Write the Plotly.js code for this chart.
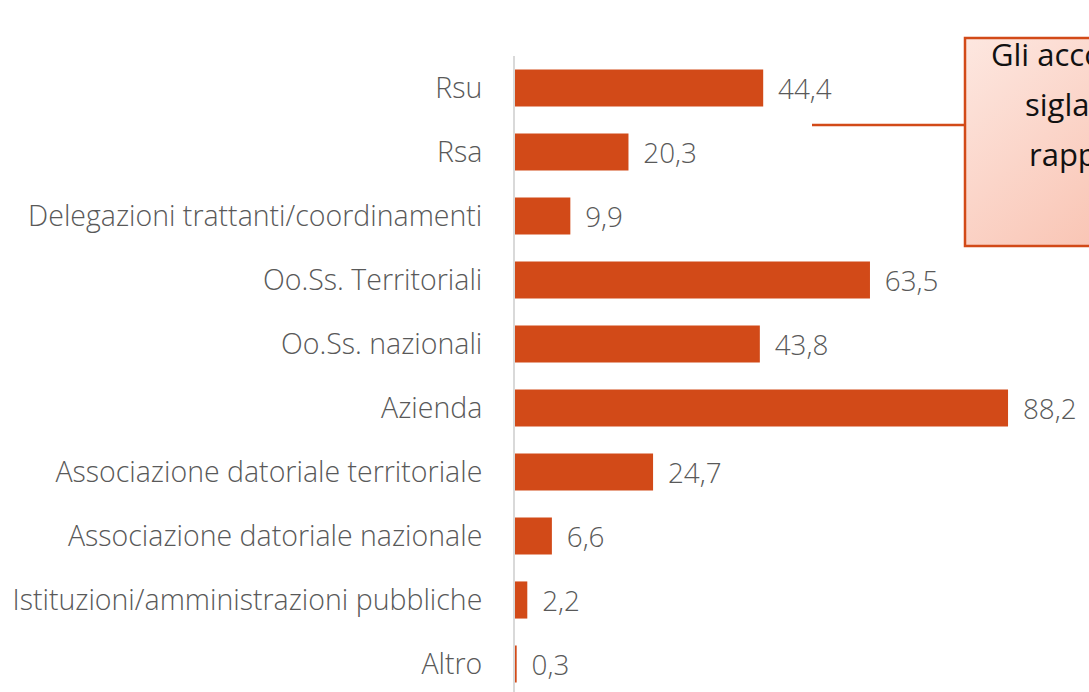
<!DOCTYPE html>
<html>
<head>
<meta charset="utf-8">
<script src="https://cdn.plot.ly/plotly-3.0.1.min.js"></script>
<style>html,body{margin:0;padding:0;background:#fff;overflow:hidden}#chart{width:1089px;height:692px}</style>
</head>
<body>
<div id="chart"></div>
<script>
const categories = [
  "Rsu",
  "Rsa",
  "Delegazioni trattanti/coordinamenti",
  "Oo.Ss. Territoriali",
  "Oo.Ss. nazionali",
  "Azienda",
  "Associazione datoriale territoriale",
  "Associazione datoriale nazionale",
  "Istituzioni/amministrazioni pubbliche",
  "Altro"
];
const values = [44.4, 20.3, 9.9, 63.5, 43.8, 88.2, 24.7, 6.6, 2.2, 0.3];
const calloutLines = ["Gli accordi sono stati", "siglati da più", "rappresentanze"];

const W = 1089, H = 692;
const L = 515, T = 56, B = 0, R = 0;
const pw = W - L - R, ph = H - T - B;
const px = x => (x - L) / pw;
const py = y => (H - B - y) / ph;

const FONT = '"Open Sans", sans-serif';

const trace = {
  type: 'bar',
  orientation: 'h',
  y: categories,
  x: values,
  marker: {color: '#d24a18'},
  width: 0.58,
  texttemplate: '\u00a0\u2009%{x:.1f}',
  textposition: 'outside',
  cliponaxis: false,
  textfont: {family: FONT, size: 28.5, color: '#595959', weight: 300},
  hoverinfo: 'skip'
};

const annotations = [
  {text: calloutLines[0], xpos: 989, ypos: 54},
  {text: calloutLines[1], xpos: 1023, ypos: 104},
  {text: calloutLines[2], xpos: 1027, ypos: 154}
].map(a => ({
  xref: 'paper', yref: 'paper', x: px(a.xpos), y: py(a.ypos),
  xanchor: 'left', yanchor: 'middle', showarrow: false, text: a.text,
  font: {family: FONT, size: 31, color: '#111111', weight: 400}
}));

const gradSvg = "<svg xmlns='http://www.w3.org/2000/svg' width='100' height='100' preserveAspectRatio='none'>" +
  "<defs><linearGradient id='g' x1='0' y1='0' x2='1' y2='1'>" +
  "<stop offset='0' stop-color='#fde7e0'/><stop offset='1' stop-color='#f8bba8'/></linearGradient></defs>" +
  "<rect width='100' height='100' fill='url(#g)'/></svg>";
const gradUri = 'data:image/svg+xml;charset=utf-8,' + encodeURIComponent(gradSvg);

const layout = {
  width: W, height: H,
  margin: {l: L, r: R, t: T, b: B, pad: 0},
  paper_bgcolor: '#ffffff', plot_bgcolor: 'rgba(0,0,0,0)',
  separators: ',.',
  showlegend: false,
  xaxis: {range: [0, pw / 5.59], visible: false, fixedrange: true},
  yaxis: {
    type: 'category',
    range: [categories.length - 1 + (ph / 64 - categories.length + 0.5), -0.5],
    showline: true, linecolor: '#d9d9d9', linewidth: 2,
    showgrid: false, zeroline: false, ticks: '',
    ticklabelstandoff: 25,
    tickfont: {family: FONT, size: 28.5, color: '#595959', weight: 300},
    fixedrange: true
  },
  images: [
    {source: gradUri, xref: 'paper', yref: 'paper', x: px(965), y: py(38),
     sizex: px(1200) - px(965), sizey: py(38) - py(246), sizing: 'stretch',
     xanchor: 'left', yanchor: 'top', layer: 'below'}
  ],
  shapes: [
    {type: 'rect', xref: 'paper', yref: 'paper', x0: px(965), x1: px(1200), y0: py(246), y1: py(38),
     fillcolor: 'rgba(0,0,0,0)', line: {color: '#d24a18', width: 2.5}, layer: 'above'},
    {type: 'line', xref: 'paper', yref: 'paper', x0: px(812), x1: px(965), y0: py(125), y1: py(125),
     line: {color: '#d24a18', width: 2.5}}
  ],
  annotations: annotations
};

Plotly.newPlot('chart', [trace], layout, {displayModeBar: false, staticPlot: true});
</script>
</body>
</html>
